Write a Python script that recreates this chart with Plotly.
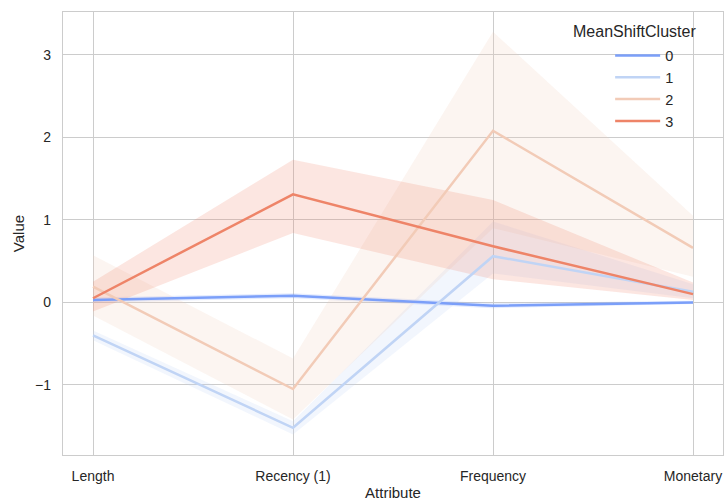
import plotly.graph_objects as go

# Attributes on the x axis
categories = ["Length", "Recency (1)", "Frequency", "Monetary"]
clusters = ["0", "1", "2", "3"]

# Mean value per attribute for each MeanShift cluster
mean_c0 = [0.03, 0.08, -0.04, 0.00]
mean_c1 = [-0.40, -1.52, 0.56, 0.13]
mean_c2 = [0.19, -1.05, 2.08, 0.66]
mean_c3 = [0.05, 1.31, 0.68, 0.10]

# Confidence interval bounds per attribute
low_c0 = [0.00, 0.05, -0.07, -0.02]
high_c0 = [0.06, 0.11, -0.01, 0.02]
low_c1 = [-0.46, -1.60, 0.35, 0.05]
high_c1 = [-0.34, -1.44, 0.98, 0.22]
low_c2 = [-0.16, -1.42, 0.90, 0.31]
high_c2 = [0.57, -0.68, 3.28, 1.05]
low_c3 = [-0.11, 0.84, 0.28, 0.03]
high_c3 = [0.25, 1.73, 1.24, 0.24]

y_ticks = [-1, 0, 1, 2, 3]

# coolwarm palette, 4 levels
colors = ["#7b9ff9", "#c0d4f5", "#f2cbb7", "#ee8468"]

means = [mean_c0, mean_c1, mean_c2, mean_c3]
lows = [low_c0, low_c1, low_c2, low_c3]
highs = [high_c0, high_c1, high_c2, high_c3]


def rgba(hex_color, alpha):
    h = hex_color.lstrip("#")
    r, g, b = int(h[0:2], 16), int(h[2:4], 16), int(h[4:6], 16)
    return f"rgba({r},{g},{b},{alpha})"


fig = go.Figure()

# Error bands first so all lines sit on top
for name, color, lo, hi in zip(clusters, colors, lows, highs):
    fig.add_trace(go.Scatter(
        x=categories + categories[::-1],
        y=hi + lo[::-1],
        fill="toself",
        fillcolor=rgba(color, 0.2),
        line=dict(width=0),
        mode="lines",
        hoverinfo="skip",
        showlegend=False,
    ))

for name, color, m in zip(clusters, colors, means):
    fig.add_trace(go.Scatter(
        x=categories,
        y=m,
        mode="lines",
        name=name,
        line=dict(color=color, width=2.5),
    ))

text_color = "#262626"
grid_color = "#cccccc"

fig.update_layout(
    width=727,
    height=502,
    margin=dict(l=63, r=4, t=12, b=47),
    paper_bgcolor="white",
    plot_bgcolor="white",
    font=dict(family="Liberation Sans, Arial, sans-serif", size=14, color=text_color),
    showlegend=True,
    legend=dict(
        x=0.829,
        y=0.938,
        xanchor="left",
        yanchor="top",
        bgcolor="rgba(0,0,0,0)",
        font=dict(size=14.5, color=text_color),
        itemwidth=45,
    ),
    annotations=[dict(
        text="MeanShiftCluster",
        x=0.866,
        y=0.955,
        xref="paper",
        yref="paper",
        xanchor="center",
        yanchor="middle",
        showarrow=False,
        font=dict(size=16, color=text_color),
    )],
)

fig.update_xaxes(
    type="category",
    range=[-0.15, 3.15],
    showgrid=True,
    gridcolor=grid_color,
    gridwidth=1,
    showline=True,
    mirror=True,
    linecolor=grid_color,
    linewidth=1.3,
    ticks="",
    ticklabelstandoff=8,
    tickfont=dict(size=14),
    title=dict(text="Attribute", font=dict(size=15), standoff=4),
    zeroline=False,
)

fig.update_yaxes(
    range=[-1.85, 3.52],
    tickvals=y_ticks,
    showgrid=True,
    gridcolor=grid_color,
    gridwidth=1,
    showline=True,
    mirror=True,
    linecolor=grid_color,
    linewidth=1.3,
    ticks="",
    ticklabelstandoff=8,
    tickfont=dict(size=14),
    title=dict(text="Value", font=dict(size=15), standoff=6),
    zeroline=False,
)

fig.write_html("out.html")
